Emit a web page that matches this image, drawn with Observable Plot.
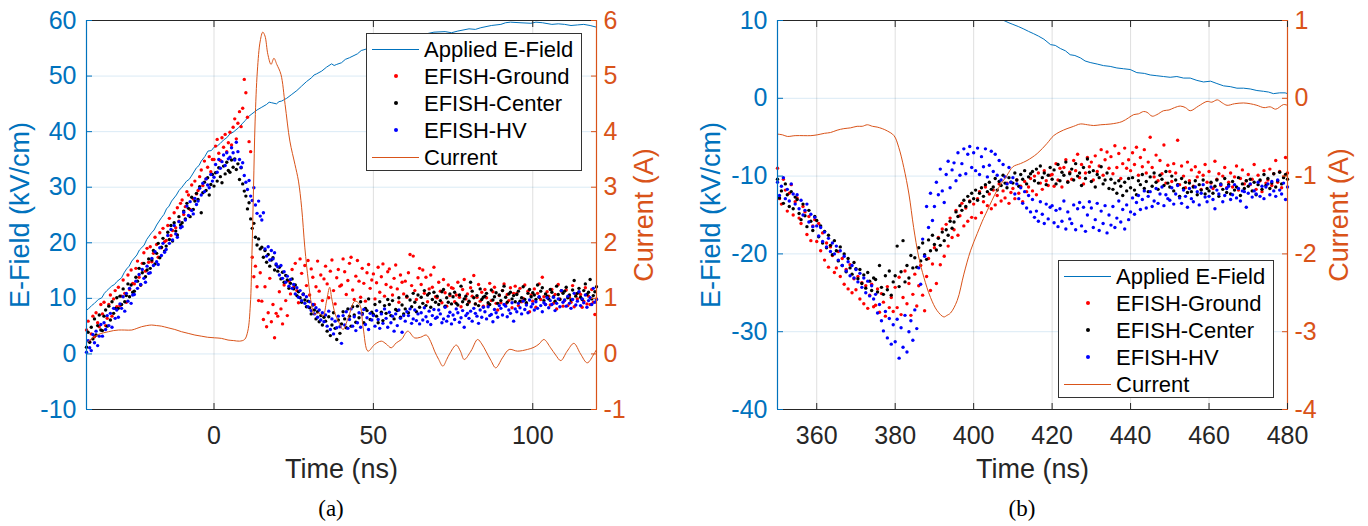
<!DOCTYPE html>
<html>
<head>
<meta charset="utf-8">
<script src="https://cdn.jsdelivr.net/npm/d3@7"></script>
<script src="https://cdn.jsdelivr.net/npm/@observablehq/plot@0.6"></script>
<style>
  html, body { margin: 0; padding: 0; background: #fff; }
  body { width: 1368px; height: 526px; position: relative; overflow: hidden; font-family: "Liberation Sans", Arial, sans-serif; }
  .panel { position: absolute; top: 0; width: 684px; height: 526px; }
  .caption { position: absolute; top: 496px; width: 80px; text-align: center; font-family: "Liberation Serif", "DejaVu Serif", serif; font-size: 23px; color: #000; }
  .legend { position: absolute; width: 216px; height: 138px; box-sizing: border-box; border: 1px solid #333; background: #fff; }
  .entry { position: absolute; left: 0; height: 27px; width: 214px; }
  .entry .sym { position: absolute; left: 5px; top: 13px; width: 47px; height: 0; }
  .entry .dotsym { position: absolute; left: 27px; top: 11px; width: 4px; height: 4px; border-radius: 50%; }
  .entry .lab { position: absolute; left: 57px; top: 0; line-height: 27px; font-size: 22px; color: #000; white-space: nowrap; }
</style>
</head>
<body>
<div id="pa" class="panel" style="left:0"></div>
<div id="pb" class="panel" style="left:684px"></div>
<script>
// ---------------- Panel (a) data ----------------
const xDomainA = [-40, 120];
const yDomainA = [-10, 60];
const curDomainA = [-1, 6];
const xTicksA = [0, 50, 100];
const yTicksA = [-10, 0, 10, 20, 30, 40, 50, 60];
const curTicksA = [-1, 0, 1, 2, 3, 4, 5, 6];

const tA = [
-40,-39.5,-39,-38.5,-38,-37.5,-37,-36.5,-36,-35.5,
-35,-34.5,-34,-33.5,-33,-32.5,-32,-31.5,-31,-30.5,
-30,-29.5,-29,-28.5,-28,-27.5,-27,-26.5,-26,-25.5,
-25,-24.5,-24,-23.5,-23,-22.5,-22,-21.5,-21,-20.5,
-20,-19.5,-19,-18.5,-18,-17.5,-17,-16.5,-16,-15.5,
-15,-14.5,-14,-13.5,-13,-12.5,-12,-11.5,-11,-10.5,
-10,-9.5,-9,-8.5,-8,-7.5,-7,-6.5,-6,-5.5,
-5,-4.5,-4,-3.5,-3,-2.5,-2,-1.5,-1,-0.5,
0,0.5,1,1.5,2,2.5,3,3.5,4,4.5,
5,5.5,6,6.5,7,7.5,8,8.5,9,9.5,
10,10.5,11,11.5,12,12.5,13,13.5,14,14.5,
15,15.5,16,16.5,17,17.5,18,18.5,19,19.5,
20,20.5,21,21.5,22,22.5,23,23.5,24,24.5,
25,25.5,26,26.5,27,27.5,28,28.5,29,29.5,
30,30.5,31,31.5,32,32.5,33,33.5,34,34.5,
35,35.5,36,36.5,37,37.5,38,38.5,39,39.5,
40,40.5,41,41.5,42,42.5,43,43.5,44,44.5,
45,45.5,46,46.5,47,47.5,48,48.5,49,49.5,
50,50.5,51,51.5,52,52.5,53,53.5,54,54.5,
55,55.5,56,56.5,57,57.5,58,58.5,59,59.5,
60,60.5,61,61.5,62,62.5,63,63.5,64,64.5,
65,65.5,66,66.5,67,67.5,68,68.5,69,69.5,
70,70.5,71,71.5,72,72.5,73,73.5,74,74.5,
75,75.5,76,76.5,77,77.5,78,78.5,79,79.5,
80,80.5,81,81.5,82,82.5,83,83.5,84,84.5,
85,85.5,86,86.5,87,87.5,88,88.5,89,89.5,
90,90.5,91,91.5,92,92.5,93,93.5,94,94.5,
95,95.5,96,96.5,97,97.5,98,98.5,99,99.5,
100,100.5,101,101.5,102,102.5,103,103.5,104,104.5,
105,105.5,106,106.5,107,107.5,108,108.5,109,109.5,
110,110.5,111,111.5,112,112.5,113,113.5,114,114.5,
115,115.5,116,116.5,117,117.5,118,118.5,119,119.5,
120];

const groundA = [
4.3,5.9,2.2,3.6,6.8,3.1,7.4,5.6,4.9,8.9,
7.2,9.3,5.1,6.4,8.9,10.6,6.8,9.9,11.4,8.5,
12.0,8.7,10.4,13.3,10.9,9.3,14.2,11.6,15.1,12.7,
12.6,15.4,16.7,13.8,12.4,16.3,18.2,14.9,19.0,16.5,
19.3,16.6,18.1,21.0,19.7,17.4,21.8,19.1,22.6,20.2,
20.4,23.1,24.4,21.3,22.2,25.4,22.7,26.3,23.9,27.1,
27.7,25.1,26.5,29.2,28.6,26.0,30.4,27.9,31.1,28.8,
29.4,31.9,33.1,30.3,34.7,31.5,33.6,35.5,32.8,35.0,
35.0,37.4,38.6,36.1,34.8,38.9,37.2,39.5,36.4,38.0,
39.9,37.6,40.8,42.3,38.7,41.5,43.6,40.9,44.2,49.4,
47.0,42.6,38.2,36.4,17.4,13.9,15.8,12.1,9.6,14.6,
9.5,6.2,12.1,4.9,7.4,13.6,5.8,8.9,2.9,7.3,
6.8,11.2,8.1,5.4,12.4,9.6,6.9,13.1,10.8,15.2,
12.0,16.3,11.4,9.2,17.1,14.5,10.7,15.9,12.3,16.8,
10.6,15.3,13.8,8.9,12.1,16.7,11.3,14.2,9.6,13.5,
15.8,12.6,10.1,14.9,16.9,11.4,9.0,13.7,15.2,12.2,
12.4,17.1,14.8,10.7,13.2,16.3,17.4,11.5,9.8,14.0,
16.8,13.1,10.2,15.4,12.7,9.5,14.6,16.1,11.8,13.3,
14.4,9.9,12.8,15.6,11.1,13.9,16.2,10.4,12.5,14.8,
15.3,12.0,10.6,13.6,16.0,11.7,9.3,14.2,12.9,10.8,
13.1,10.2,14.6,17.9,12.3,17.6,11.4,9.8,13.7,15.4,
12.5,15.1,10.9,13.8,9.4,11.7,14.2,12.0,15.6,10.3,
10.1,12.9,11.3,9.2,13.4,11.0,8.6,12.4,10.5,11.9,
11.8,9.4,10.6,12.9,10.2,8.5,11.6,13.4,9.9,10.8,
9.3,11.9,10.4,14.1,9.0,10.2,12.5,9.5,11.1,8.6,
11.6,10.1,8.8,12.7,9.6,11.2,12.0,9.1,7.9,10.5,
9.2,11.4,12.6,8.9,10.7,9.6,11.9,8.3,10.9,12.2,
10.9,8.7,11.8,9.4,10.0,12.4,9.1,11.3,7.6,10.6,
9.5,11.7,8.4,10.9,12.6,9.8,13.8,10.3,8.9,11.2,
10.4,8.8,11.6,9.1,10.7,8.1,12.5,9.9,11.3,8.6,
9.6,11.5,8.7,10.2,9.3,12.3,8.5,10.8,9.9,11.1,
10.7,8.4,9.5,11.9,9.0,10.4,8.9,11.6,9.3,7.1,
9.9];

const centerA = [
1.2,3.9,2.1,4.8,2.7,6.3,3.4,5.1,7.0,4.3,
4.2,6.8,7.9,5.0,8.6,6.1,9.4,7.3,8.2,10.1,
8.2,10.4,8.9,11.7,9.4,10.5,12.6,10.3,12.4,11.1,
11.3,13.8,13.1,15.4,12.4,14.6,16.3,13.9,15.1,17.1,
15.4,16.9,18.6,16.2,18.1,19.9,17.3,19.2,20.8,18.5,
19.4,21.9,20.6,23.1,20.3,23.6,22.1,21.4,24.7,23.2,
23.6,25.7,24.3,27.1,26.2,24.7,28.2,26.0,27.5,28.9,
27.8,30.1,25.4,29.0,30.9,29.4,31.7,28.6,30.5,32.3,
30.2,32.6,31.1,33.5,31.9,30.8,33.8,32.4,34.5,33.0,
32.7,34.9,33.6,35.1,33.2,34.2,31.4,33.5,30.6,29.3,
28.4,26.1,27.2,24.3,22.6,23.5,21.0,19.6,20.7,18.9,
19.2,17.4,18.6,16.5,17.9,15.8,16.9,17.3,15.1,16.0,
14.9,15.6,13.5,14.7,12.9,14.1,13.3,11.8,12.7,13.5,
11.7,12.4,10.5,11.2,10.1,9.3,10.8,9.7,8.5,9.5,
8.3,7.2,8.8,7.9,6.3,7.6,5.8,6.9,5.2,6.6,
5.9,4.1,6.7,3.3,5.2,7.4,4.6,2.6,6.1,3.7,
5.4,7.6,6.3,4.7,8.1,6.8,5.0,8.5,7.0,5.7,
8.6,6.5,9.4,7.3,5.6,8.2,7.8,9.9,6.2,7.5,
7.1,8.9,6.8,5.6,9.4,7.5,6.0,8.7,7.3,9.8,
8.9,6.9,9.6,6.3,8.0,7.8,10.1,6.6,8.8,7.2,
8.1,10.4,7.4,9.7,8.5,10.9,9.3,7.6,10.6,8.4,
10.2,9.1,11.4,8.7,10.6,10.9,8.4,9.8,11.1,9.3,
10.4,8.9,9.6,11.2,11.6,8.6,10.1,9.3,10.8,9.0,
10.3,11.1,9.1,8.8,10.6,12.2,9.4,9.9,10.4,8.9,
9.5,12.9,11.3,10.1,9.0,10.5,8.7,11.7,9.8,10.2,
10.4,10.9,9.2,8.9,11.5,9.7,10.3,11.0,9.1,10.6,
9.6,11.4,12.2,10.2,9.3,10.8,11.1,9.9,10.5,9.4,
10.7,11.3,9.5,10.1,12.1,9.8,9.2,10.9,11.6,10.3,
11.0,10.6,9.8,12.4,10.2,11.3,11.9,9.6,10.8,10.4,
9.9,11.6,11.1,10.3,9.5,12.2,10.7,9.8,11.4,10.9,
11.3,12.0,10.1,10.6,9.7,11.5,13.2,10.4,10.9,11.8,
10.2,9.8,11.4,12.6,10.7,11.1,13.4,9.9,10.5,11.2,
12.1];

const hvA = [
0.3,2.4,1.1,0.6,3.5,2.0,4.1,1.5,3.2,5.3,
3.2,5.6,4.4,6.9,5.1,7.3,4.8,8.2,6.4,7.9,
6.6,9.0,8.2,10.3,7.7,10.9,9.5,11.8,9.1,10.6,
10.7,13.1,11.8,14.3,12.5,15.2,13.6,12.9,15.8,14.5,
14.6,17.2,15.9,18.4,16.6,16.1,19.1,17.7,19.9,18.3,
18.8,21.3,19.9,22.4,20.5,23.1,21.6,21.0,23.8,22.7,
22.9,25.5,24.1,26.6,24.9,27.4,25.8,25.2,28.0,26.9,
27.5,29.8,28.6,30.7,29.2,31.5,30.4,29.9,32.3,31.1,
31.8,34.1,32.7,35.0,33.4,34.6,35.8,33.9,36.2,35.1,
35.4,37.1,36.2,34.9,38.1,36.4,35.0,33.6,34.4,32.1,
30.9,29.6,31.2,28.4,27.6,29.9,26.8,25.3,27.5,24.8,
24.1,25.4,18.9,17.6,19.3,16.9,18.6,17.1,18.2,16.2,
15.7,14.2,15.9,13.6,14.8,12.9,14.0,12.2,13.4,11.8,
12.5,10.8,11.9,10.2,11.4,9.6,10.7,9.1,10.3,8.5,
9.4,7.8,8.9,7.2,8.3,6.6,7.9,6.1,7.4,5.8,
7.0,5.0,7.7,4.4,6.3,3.6,5.9,4.7,6.8,4.9,
1.9,6.9,5.2,7.6,4.6,6.2,8.1,5.0,6.7,4.2,
5.6,7.4,4.8,7.1,8.0,5.3,6.5,4.4,7.3,6.1,
6.9,5.0,7.8,6.2,4.6,7.2,5.5,8.1,6.4,4.8,
7.5,5.6,6.8,4.1,7.2,5.1,7.9,6.4,3.9,6.9,
5.9,7.6,6.9,8.1,5.5,6.3,7.9,6.0,7.2,5.4,
7.4,6.1,8.3,6.7,5.8,7.7,5.3,6.9,8.0,6.4,
6.6,7.9,7.2,5.6,6.3,8.4,5.9,6.8,7.5,5.4,
7.0,6.2,8.1,7.4,5.7,6.5,7.8,4.8,6.9,7.3,
6.4,7.7,5.9,8.2,7.3,6.8,5.5,7.9,6.6,8.4,
7.6,6.3,8.5,6.9,7.1,5.8,8.0,7.4,6.6,8.7,
8.2,7.0,8.9,8.6,6.7,7.9,7.3,9.2,5.9,8.1,
7.6,9.1,8.3,7.2,9.5,8.0,8.8,7.4,9.7,8.5,
9.0,7.9,9.4,8.2,10.3,8.7,7.6,9.2,8.9,10.1,
8.3,9.6,8.9,10.2,7.8,9.1,9.9,8.5,11.4,9.3,
9.7,8.6,10.4,9.1,8.2,9.8,10.9,8.8,9.5,11.2,
8.7,9.9,9.2,10.6,8.4,9.6,10.1,8.9,11.8,9.3,
9.8];

// Applied E-field (kV/cm) and current (A): [time ns, value]
const appliedA = [
[-40,7.9],[-39.4,8.1],[-38.4,8.7],[-37.5,9.1],[-36.3,9.8],[-35.2,10.1],[-34.4,10.9],[-33.6,11.4],[-32.1,12.2],[-31.2,12.5],[-30.5,13.0],[-29,13.7],[-28.2,14.6],[-27.4,15.3],[-26.6,15.8],[-25.8,16.7],[-24.2,17.8],[-23.4,18.7],[-22.7,19.1],[-21.9,19.6],[-21.1,20.6],[-19.6,21.8],[-18.8,22.3],[-18,23.2],[-16.5,24.5],[-15.7,25.1],[-14.9,26.1],[-14.1,26.6],[-13.3,27.5],[-11.8,28.6],[-11,29.4],[-10.2,29.9],[-8.6,31.1],[-7.8,31.4],[-7.1,32.0],[-5.5,33.5],[-4.7,33.9],[-4,34.7],[-2.9,35.5],[-1.9,36.5],[-0.8,36.6],[0,37.2],[1,37.4],[2,37.9],[3,38.5],[4,38.9],[5,39.6],[6,39.9],[7.7,40.7],[8.8,41.4],[9.8,42.0],[10.8,42.7],[11.9,43.2],[13.5,43.9],[15,44.4],[16.5,44.9],[17.3,45.3],[18.1,45.2],[19.6,45.0],[20.4,45.4],[21.2,45.5],[22.8,46.0],[24.4,46.7],[26,47.4],[27.5,48.2],[29,49.0],[30.6,49.7],[31.4,50.2],[32.2,50.4],[33.8,50.9],[35.3,51.6],[36.9,52.2],[37.7,51.9],[38.5,52.1],[40,52.4],[41.2,53.0],[42.5,53.3],[45,54.0],[46.2,54.6],[47.4,54.8],[50,55.3],[55,56.1],[60,56.8],[65,57.4],[69,57.9],[72.5,58.0],[74.5,57.8],[76.5,58.1],[80,58.5],[82,58.4],[83.7,58.7],[87,59.1],[90,59.3],[91.5,59.6],[93,59.7],[96,59.6],[99.4,59.5],[101,59.7],[103,59.6],[106,59.3],[108,59.4],[110,59.3],[112,59.1],[114,59.2],[116,59.3],[118,59.1],[120,58.8]
];
const currentA = [
[-40,0.2],[-39.4,0.23],[-37.8,0.3],[-36.3,0.35],[-34.7,0.38],[-33.1,0.4],[-31.5,0.42],[-30,0.43],[-28,0.43],[-25.8,0.43],[-24.2,0.46],[-22.7,0.49],[-21.1,0.51],[-19.6,0.52],[-18,0.51],[-16.5,0.5],[-14.4,0.47],[-12.3,0.44],[-10.2,0.4],[-8.1,0.37],[-6,0.34],[-4,0.32],[-2,0.3],[0.2,0.29],[2.3,0.28],[4.4,0.25],[6.2,0.24],[8,0.23],[9.6,0.26],[10.6,0.41],[11.4,0.88],[11.9,1.79],[12.4,2.99],[12.9,4.19],[13.6,5.09],[14.5,5.63],[15.3,5.79],[16,5.72],[16.9,5.39],[17.9,5.21],[18.8,5.32],[19.7,5.21],[21,5.03],[22.3,4.49],[23.8,3.83],[25.4,3.41],[26.5,3.11],[27.5,2.63],[28.5,1.91],[29.6,1.31],[30.6,0.89],[31.5,0.71],[32.9,0.74],[34.2,0.68],[35.3,0.95],[36.3,1.2],[36.9,1.01],[38,0.72],[39,0.59],[40.5,0.44],[42.1,0.65],[44.2,0.95],[45.7,0.89],[46.8,0.47],[48.3,0.05],[50.4,0.17],[52.5,0.23],[54,0.18],[55.6,0.11],[57.2,0.2],[58.8,0.26],[60.8,0.41],[62.9,0.29],[64.8,0.3],[66.6,0.34],[68,0.22],[69.2,0.05],[70.5,-0.1],[71.8,-0.22],[73,-0.1],[73.9,0.0],[76,0.16],[77.3,0.05],[78.5,-0.1],[80.6,0.05],[82.7,0.26],[84,0.18],[85.3,0.05],[86.9,-0.12],[88.4,-0.25],[90.5,-0.07],[92.6,0.08],[95.2,0.05],[98.3,0.08],[100.4,0.12],[102,0.18],[103.5,0.26],[105.6,0.11],[107.2,-0.02],[108.8,-0.12],[110.8,0.05],[112.9,0.19],[115,0.0],[117.1,-0.16],[119.2,0.0],[120,0.08]
];

// ---------------- Panel (b) data ----------------
const xDomainB = [350, 480];
const yDomainB = [-40, 10];
const curDomainB = [-4, 1];
const xTicksB = [360, 380, 400, 420, 440, 460, 480];
const yTicksB = [-40, -30, -20, -10, 0, 10];
const curTicksB = [-4, -3, -2, -1, 0, 1];

const tB = [
350,350.5,351,351.5,352,352.5,353,353.5,354,354.5,
355,355.5,356,356.5,357,357.5,358,358.5,359,359.5,
360,360.5,361,361.5,362,362.5,363,363.5,364,364.5,
365,365.5,366,366.5,367,367.5,368,368.5,369,369.5,
370,370.5,371,371.5,372,372.5,373,373.5,374,374.5,
375,375.5,376,376.5,377,377.5,378,378.5,379,379.5,
380,380.5,381,381.5,382,382.5,383,383.5,384,384.5,
385,385.5,386,386.5,387,387.5,388,388.5,389,389.5,
390,390.5,391,391.5,392,392.5,393,393.5,394,394.5,
395,395.5,396,396.5,397,397.5,398,398.5,399,399.5,
400,400.5,401,401.5,402,402.5,403,403.5,404,404.5,
405,405.5,406,406.5,407,407.5,408,408.5,409,409.5,
410,410.5,411,411.5,412,412.5,413,413.5,414,414.5,
415,415.5,416,416.5,417,417.5,418,418.5,419,419.5,
420,420.5,421,421.5,422,422.5,423,423.5,424,424.5,
425,425.5,426,426.5,427,427.5,428,428.5,429,429.5,
430,430.5,431,431.5,432,432.5,433,433.5,434,434.5,
435,435.5,436,436.5,437,437.5,438,438.5,439,439.5,
440,440.5,441,441.5,442,442.5,443,443.5,444,444.5,
445,445.5,446,446.5,447,447.5,448,448.5,449,449.5,
450,450.5,451,451.5,452,452.5,453,453.5,454,454.5,
455,455.5,456,456.5,457,457.5,458,458.5,459,459.5,
460,460.5,461,461.5,462,462.5,463,463.5,464,464.5,
465,465.5,466,466.5,467,467.5,468,468.5,469,469.5,
470,470.5,471,471.5,472,472.5,473,473.5,474,474.5,
475,475.5,476,476.5,477,477.5,478,478.5,479,479.5,
480];

const groundB = [
-9.0,-12.9,-13.6,-10.4,-11.8,-14.5,-12.2,-11.1,-15.0,-13.3,
-12.8,-15.4,-16.1,-13.9,-14.6,-17.5,-15.2,-18.3,-16.4,-15.6,
-18.4,-16.1,-19.6,-17.3,-20.8,-18.6,-21.7,-19.1,-20.2,-22.4,
-21.8,-19.7,-22.9,-20.6,-23.9,-22.0,-24.5,-21.4,-25.0,-23.2,
-24.6,-22.9,-25.8,-23.7,-26.4,-24.1,-27.0,-25.3,-23.9,-26.8,
-26.6,-24.5,-27.5,-25.1,-26.2,-28.0,-24.2,-26.9,-25.6,-27.4,
-24.3,-26.9,-23.0,-27.8,-25.6,-22.2,-26.4,-23.8,-27.9,-25.2,
-22.6,-26.7,-24.1,-21.5,-25.3,-27.3,-22.9,-20.6,-24.7,-21.3,
-19.2,-23.8,-17.9,-21.4,-16.8,-20.3,-16.2,-19.0,-15.4,-17.9,
-16.9,-14.4,-17.6,-15.1,-13.5,-16.4,-14.1,-15.8,-13.2,-15.3,
-13.6,-15.4,-12.9,-12.0,-14.7,-13.3,-11.4,-13.8,-12.3,-14.2,
-11.8,-13.7,-12.5,-11.0,-13.2,-11.9,-12.8,-10.9,-13.5,-12.1,
-11.6,-12.9,-10.5,-12.2,-11.3,-13.3,-10.7,-12.0,-11.4,-10.3,
-11.9,-10.0,-12.4,-9.6,-10.9,-11.7,-9.3,-10.6,-11.2,-9.9,
-9.8,-11.3,-8.4,-10.5,-9.0,-11.4,-8.9,-7.9,-10.7,-9.5,
-10.4,-8.0,-9.3,-7.2,-10.2,-8.5,-11.0,-9.6,-7.6,-8.8,
-8.2,-10.5,-7.4,-9.4,-8.7,-6.6,-9.9,-7.9,-6.9,-9.0,
-7.5,-9.7,-6.1,-8.9,-7.1,-10.3,-8.4,-6.4,-9.0,-7.9,
-9.3,-7.0,-8.5,-6.3,-9.9,-7.6,-8.8,-6.6,-9.6,-8.2,
-5.0,-8.9,-10.1,-7.3,-10.6,-8.0,-9.7,-6.0,-10.9,-8.6,
-9.4,-10.7,-8.4,-9.6,-5.4,-11.1,-8.7,-10.0,-11.5,-8.2,
-10.6,-9.2,-11.3,-8.8,-10.1,-9.5,-11.7,-9.9,-8.5,-10.8,
-9.4,-10.9,-11.6,-8.1,-10.4,-9.7,-11.2,-10.0,-8.9,-11.5,
-10.8,-9.6,-11.4,-10.1,-8.7,-11.8,-10.3,-9.2,-11.0,-10.6,
-9.8,-11.1,-10.4,-8.5,-11.7,-9.9,-10.6,-12.0,-9.3,-10.9,
-10.5,-9.1,-11.2,-9.7,-8.0,-10.8,-9.4,-11.5,-10.1,-7.6,
-9.6];

const centerB = [
-10.4,-12.8,-11.9,-13.5,-11.0,-12.4,-13.9,-12.0,-14.2,-12.7,
-13.0,-14.8,-15.6,-13.6,-15.1,-16.5,-14.4,-15.8,-17.0,-15.2,
-15.7,-17.8,-16.4,-18.6,-17.1,-19.2,-17.6,-18.9,-20.1,-18.3,
-19.6,-20.9,-19.1,-21.5,-20.0,-22.3,-20.6,-21.8,-22.6,-21.1,
-21.9,-23.2,-22.0,-23.8,-22.7,-24.4,-22.4,-23.5,-24.7,-23.1,
-23.3,-24.9,-21.5,-24.3,-25.2,-22.8,-24.6,-22.2,-25.3,-23.6,
-22.8,-19.0,-24.2,-22.3,-18.3,-23.6,-21.5,-23.1,-20.2,-21.8,
-20.5,-21.7,-19.2,-20.9,-18.6,-20.1,-20.7,-18.2,-19.6,-17.6,
-18.8,-19.5,-18.0,-18.9,-17.2,-18.3,-16.9,-17.6,-15.8,-16.7,
-15.9,-14.6,-15.2,-13.8,-14.4,-13.1,-13.9,-12.6,-13.3,-12.2,
-12.9,-11.8,-13.1,-12.2,-11.5,-12.6,-11.1,-12.0,-10.8,-11.7,
-11.4,-10.3,-11.8,-10.7,-11.2,-9.9,-10.9,-11.5,-10.2,-10.8,
-10.9,-9.6,-10.5,-11.3,-9.8,-10.4,-9.3,-11.0,-10.1,-9.7,
-9.4,-10.6,-9.1,-10.9,-8.7,-10.2,-9.6,-11.1,-9.9,-8.9,
-10.4,-9.2,-11.0,-8.5,-10.6,-9.5,-9.9,-8.2,-10.8,-9.7,
-9.1,-10.5,-8.4,-10.0,-9.6,-11.2,-8.9,-10.3,-7.8,-9.5,
-10.7,-9.3,-11.4,-9.8,-10.2,-8.8,-11.0,-10.5,-9.6,-11.6,
-10.4,-11.7,-10.9,-12.2,-10.6,-11.3,-12.5,-10.8,-11.9,-10.3,
-11.5,-10.2,-11.8,-12.4,-10.6,-11.1,-9.8,-11.6,-10.7,-12.0,
-10.1,-11.3,-9.6,-10.8,-11.7,-9.9,-10.4,-11.2,-9.4,-10.9,
-11.4,-10.0,-11.9,-10.5,-11.1,-12.6,-10.3,-11.6,-10.8,-12.1,
-10.9,-12.0,-11.4,-10.6,-12.4,-11.1,-11.8,-10.5,-12.3,-11.6,
-11.9,-10.8,-12.2,-11.3,-10.5,-12.6,-11.0,-11.7,-10.3,-12.1,
-11.1,-12.3,-10.7,-11.8,-11.4,-10.2,-12.5,-11.0,-11.6,-10.6,
-11.3,-10.4,-11.9,-10.8,-12.4,-11.1,-10.5,-11.7,-9.8,-11.2,
-10.3,-11.6,-10.9,-9.7,-11.4,-10.6,-9.5,-11.0,-10.2,-9.8,
-10.4];

const hvB = [
-10.8,-12.5,-11.3,-10.2,-12.9,-11.7,-13.2,-11.0,-12.3,-13.6,
-12.4,-14.2,-13.1,-15.0,-14.4,-13.6,-15.9,-14.9,-16.5,-15.3,
-16.4,-17.7,-16.6,-18.4,-17.2,-19.1,-18.0,-19.7,-18.6,-20.0,
-19.0,-20.8,-19.6,-21.5,-20.3,-22.2,-21.0,-22.8,-21.5,-23.1,
-22.0,-23.6,-22.5,-24.3,-23.1,-25.0,-23.5,-25.4,-24.1,-25.8,
-25.2,-27.6,-26.5,-28.6,-29.9,-27.4,-30.8,-28.3,-31.6,-29.1,
-31.3,-28.4,-33.4,-29.5,-32.0,-27.9,-32.6,-30.0,-28.6,-31.1,
-27.2,-29.6,-21.8,-23.9,-18.1,-20.3,-13.9,-16.6,-12.2,-15.7,
-13.9,-10.8,-12.4,-9.1,-11.9,-13.4,-9.8,-8.1,-11.5,-9.2,
-8.3,-10.6,-7.0,-9.9,-8.4,-6.5,-9.7,-7.2,-6.2,-8.9,
-7.0,-9.3,-6.4,-9.8,-7.5,-8.8,-6.5,-10.1,-8.6,-6.8,
-9.4,-7.2,-9.9,-8.0,-10.5,-8.5,-10.1,-11.0,-8.9,-10.8,
-10.2,-12.3,-11.0,-12.9,-11.5,-13.5,-12.0,-14.1,-12.5,-14.6,
-13.0,-15.3,-14.5,-15.8,-13.3,-14.9,-16.1,-13.6,-15.5,-14.0,
-13.8,-16.0,-14.4,-16.5,-14.2,-15.8,-13.2,-16.8,-14.6,-15.5,
-16.1,-13.7,-16.9,-14.2,-13.4,-16.4,-14.0,-17.1,-15.0,-13.3,
-14.1,-16.6,-15.6,-13.5,-17.0,-14.5,-16.1,-13.8,-17.3,-15.0,
-16.3,-13.9,-16.6,-15.4,-13.2,-15.9,-14.3,-16.8,-13.7,-15.6,
-14.6,-12.8,-14.9,-13.4,-12.5,-14.3,-13.0,-11.9,-14.1,-12.6,
-12.0,-13.9,-13.2,-11.6,-13.5,-12.3,-11.4,-13.8,-12.4,-12.9,
-13.1,-11.5,-13.6,-12.3,-11.2,-12.8,-13.5,-11.8,-12.6,-14.0,
-11.6,-12.9,-13.3,-11.4,-12.0,-13.7,-12.2,-11.1,-12.7,-13.3,
-12.6,-11.4,-13.0,-14.2,-11.8,-12.3,-11.1,-13.3,-12.5,-11.6,
-11.3,-13.0,-12.4,-11.1,-12.8,-11.6,-13.2,-11.9,-12.0,-14.0,
-12.2,-11.0,-12.7,-11.9,-12.3,-10.8,-12.6,-11.3,-12.9,-11.4,
-11.0,-12.4,-10.7,-11.9,-12.6,-10.5,-11.8,-12.3,-10.9,-13.0,
-11.4];

const appliedB = [
[405,10.8],[407.7,10.0],[409,9.7],[410,9.5],[411.5,9.2],[412.8,8.9],[414,8.6],[415.3,8.3],[416.5,8.0],[417.9,7.6],[419.6,6.9],[420.8,6.8],[422.1,6.4],[423.4,6.1],[424.6,5.6],[425.8,5.5],[427.2,5.2],[428.4,4.8],[429.7,4.6],[431.5,4.4],[433.1,4.2],[434.8,4.1],[436.5,3.9],[438.2,3.8],[439.9,3.7],[441.6,3.3],[443.5,3.2],[445,3.0],[446.7,2.9],[448.4,2.8],[450.1,2.7],[451.8,2.8],[453.5,2.6],[455.2,2.6],[456.9,2.3],[458.6,2.1],[460.4,2.2],[462,1.9],[463.7,1.6],[465.4,1.5],[467.1,1.3],[468.8,1.3],[470.5,1.2],[472.2,1.0],[473.9,0.9],[475.2,0.8],[476.4,0.6],[478,0.7],[479.4,0.7],[480,0.6]
];
const currentB = [
[350,-0.46],[351.3,-0.47],[352.5,-0.49],[354.5,-0.48],[356.7,-0.48],[358.5,-0.48],[360.1,-0.47],[362,-0.45],[363.5,-0.44],[365.2,-0.41],[366.9,-0.39],[368.6,-0.38],[370.3,-0.36],[371.6,-0.36],[372.9,-0.34],[374.2,-0.36],[375.4,-0.37],[376.7,-0.39],[378,-0.42],[379.7,-0.48],[380.9,-0.63],[382.2,-0.89],[383.5,-1.23],[384.7,-1.66],[386,-2.04],[387.3,-2.30],[389,-2.56],[390.7,-2.73],[392.4,-2.81],[393.2,-2.79],[394.1,-2.76],[395.8,-2.60],[397.5,-2.26],[399.2,-1.96],[400.9,-1.74],[402.2,-1.58],[403.5,-1.44],[406,-1.18],[408.5,-0.99],[410,-0.88],[411.9,-0.84],[413.6,-0.80],[416.2,-0.71],[418.7,-0.58],[420.4,-0.48],[422,-0.43],[423.8,-0.39],[425.5,-0.36],[427.2,-0.33],[429,-0.34],[430.6,-0.35],[432.4,-0.34],[435,-0.33],[437.8,-0.30],[439.5,-0.25],[440.8,-0.21],[442,-0.2],[443.3,-0.17],[444.2,-0.18],[445.5,-0.23],[446.7,-0.21],[448.4,-0.16],[449.8,-0.15],[451.2,-0.12],[452.7,-0.10],[454,-0.12],[455.2,-0.16],[457.3,-0.1],[459.5,-0.04],[460.7,-0.05],[462.1,-0.02],[463.4,-0.06],[464.6,-0.09],[466.5,-0.07],[468.8,-0.06],[470.5,-0.07],[472.2,-0.09],[474,-0.12],[475.6,-0.11],[477,-0.14],[479,-0.08],[480,-0.09]
];

// ---------------- Styling / labels ----------------
const seriesNames = ["Applied E-Field", "EFISH-Ground", "EFISH-Center", "EFISH-HV", "Current"];
const seriesColors = ["#0072BD", "#FF0000", "#000000", "#0000FF", "#D95319"];
const captions = ["(a)", "(b)"];
const xLabel = "Time (ns)";
const yLabel = "E-Field (kV/cm)";
const y2Label = "Current (A)";

const FONT = "'Liberation Sans', Arial, Helvetica, sans-serif";
const AX = "#262626";

function makePanel(cfg) {
  const ratio = (cfg.yDomain[1] - cfg.yDomain[0]) / (cfg.curDomain[1] - cfg.curDomain[0]);
  const toY = c => cfg.yDomain[0] + (c - cfg.curDomain[0]) * ratio;
  const fromY = y => Math.round(cfg.curDomain[0] + (y - cfg.yDomain[0]) / ratio);
  const rows = (vals) => cfg.t.map((t, i) => ({t, v: vals[i]}));
  const dotR = 1.7;
  return Plot.plot({
    width: 684, height: 485,
    marginLeft: cfg.ml, marginRight: cfg.mr, marginTop: 20, marginBottom: 76,
    x: {domain: cfg.xDomain},
    y: {domain: cfg.yDomain},
    style: {fontFamily: FONT, background: "transparent", overflow: "visible"},
    marks: [
      Plot.gridX(cfg.xTicks, {stroke: AX, strokeOpacity: 0.15}),
      Plot.gridY(cfg.yTicks, {stroke: "#0072BD", strokeOpacity: 0.15}),
      Plot.line(cfg.applied, {x: d => d[0], y: d => d[1], stroke: seriesColors[0], strokeWidth: 1, clip: true}),
      Plot.dot(rows(cfg.ground), {x: "t", y: "v", r: dotR, fill: seriesColors[1], stroke: null}),
      Plot.dot(rows(cfg.center), {x: "t", y: "v", r: dotR, fill: seriesColors[2], stroke: null}),
      Plot.dot(rows(cfg.hv), {x: "t", y: "v", r: dotR, fill: seriesColors[3], stroke: null}),
      Plot.line(cfg.current, {x: d => d[0], y: d => toY(d[1]), stroke: seriesColors[4], strokeWidth: 1, curve: "catmull-rom", clip: true}),
      // frame lines
      Plot.ruleY([cfg.yDomain[1]], {stroke: AX, strokeWidth: 1}),
      Plot.ruleY([cfg.yDomain[0]], {stroke: AX, strokeWidth: 1}),
      Plot.ruleX([cfg.xDomain[0]], {stroke: "#0072BD", strokeWidth: 1.2}),
      Plot.ruleX([cfg.xDomain[1]], {stroke: "#D95319", strokeWidth: 1.2}),
      // axes (inward ticks)
      Plot.axisX(cfg.xTicks, {anchor: "bottom", tickSize: -6, tickPadding: 23, fontSize: 25, color: AX, label: null, tickFormat: d => String(d)}),
      Plot.axisX(cfg.xTicks, {anchor: "top", tickSize: -6, tickPadding: 0, fontSize: 1, color: AX, label: null, tickFormat: () => ""}),
      Plot.axisY(cfg.yTicks, {anchor: "left", tickSize: -6, tickPadding: 16, fontSize: 25, color: "#0072BD", label: null, tickFormat: d => String(d)}),
      Plot.axisY(cfg.curTicks.map(toY), {anchor: "right", tickSize: -6, tickPadding: 13, fontSize: 25, color: "#D95319", label: null, tickFormat: d => String(fromY(d))}),
      // axis titles
      Plot.text([xLabel], {text: d => d, frameAnchor: "bottom", dy: 49, lineAnchor: "top", textAnchor: "middle", fontSize: 27, fill: AX}),
      Plot.text([yLabel], {text: d => d, frameAnchor: "left", dx: -66, rotate: -90, lineAnchor: "middle", textAnchor: "middle", fontSize: 27, fill: "#0072BD"}),
      Plot.text([y2Label], {text: d => d, frameAnchor: "right", dx: cfg.y2dx, rotate: -90, lineAnchor: "middle", textAnchor: "middle", fontSize: 27, fill: "#D95319"})
    ]
  });
}

function makeLegend(left, top) {
  const lg = document.createElement("div");
  lg.className = "legend";
  lg.style.left = left + "px";
  lg.style.top = top + "px";
  seriesNames.forEach((name, i) => {
    const e = document.createElement("div");
    e.className = "entry";
    e.style.top = (2 + i * 27) + "px";
    const s = document.createElement("div");
    if (i === 0 || i === 4) {
      s.className = "sym";
      s.style.borderTop = "1.2px solid " + seriesColors[i];
    } else {
      s.className = "dotsym";
      s.style.background = seriesColors[i];
    }
    e.appendChild(s);
    const l = document.createElement("div");
    l.className = "lab";
    l.textContent = name;
    e.appendChild(l);
    lg.appendChild(e);
  });
  return lg;
}

function makeCaption(text, center) {
  const c = document.createElement("div");
  c.className = "caption";
  c.style.left = (center - 40) + "px";
  c.textContent = text;
  return c;
}

const pa = document.getElementById("pa");
pa.appendChild(makePanel({
  t: tA, xDomain: xDomainA, yDomain: yDomainA, curDomain: curDomainA,
  xTicks: xTicksA, yTicks: yTicksA, curTicks: curTicksA,
  ground: groundA, center: centerA, hv: hvA, applied: appliedA, current: currentA,
  ml: 86, mr: 88, y2dx: 48
}));
pa.appendChild(makeLegend(366, 33));
pa.appendChild(makeCaption(captions[0], 331));

const pb = document.getElementById("pb");
pb.appendChild(makePanel({
  t: tB, xDomain: xDomainB, yDomain: yDomainB, curDomain: curDomainB,
  xTicks: xTicksB, yTicks: yTicksB, curTicks: curTicksB,
  ground: groundB, center: centerB, hv: hvB, applied: appliedB, current: currentB,
  ml: 93, mr: 81, y2dx: 52
}));
pb.appendChild(makeLegend(374, 260));
pb.appendChild(makeCaption(captions[1], 338));
for (const s of document.querySelectorAll("svg")) { s.style.position = "absolute"; s.style.left = "0"; s.style.top = "0"; }
</script>
</body>
</html>
